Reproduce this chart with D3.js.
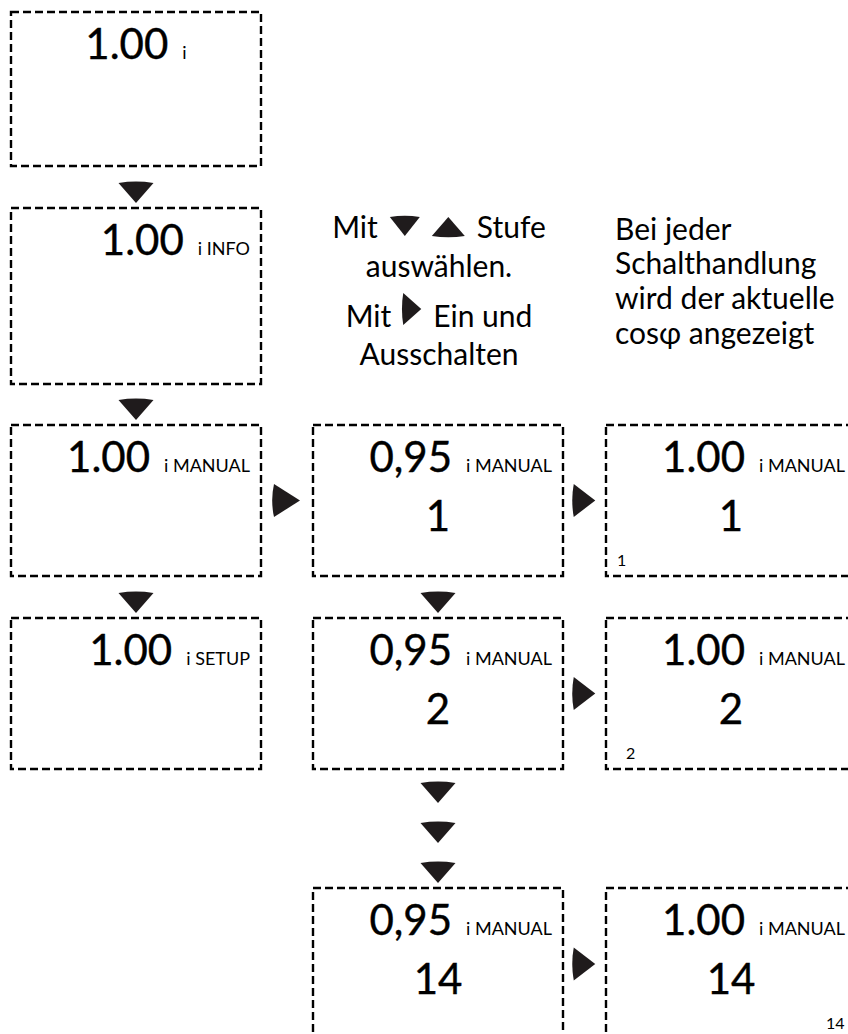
<!DOCTYPE html>
<html>
<head>
<meta charset="utf-8">
<script src="https://cdn.jsdelivr.net/npm/d3@7"></script>
<style>
  html, body { margin: 0; padding: 0; background: #fff; }
  svg { display: block; font-family: Lato, "Open Sans", sans-serif; }
</style>
</head>
<body>
<div id="chart"></div>
<script>
'use strict';

// Controller screens, one entry per screen
var screenCol  = [0, 0, 0, 0, 1, 1, 1, 2, 2, 2];
var screenRow  = [0, 1, 2, 3, 2, 3, 4, 2, 3, 4];
var readings   = ['1.00', '1.00', '1.00', '1.00', '0,95', '0,95', '0,95', '1.00', '1.00', '1.00'];
var modes      = ['i', 'i INFO', 'i MANUAL', 'i SETUP', 'i MANUAL', 'i MANUAL', 'i MANUAL', 'i MANUAL', 'i MANUAL', 'i MANUAL'];
var stages     = ['', '', '', '', '1', '2', '14', '1', '2', '14'];
var stageFlags = ['', '', '', '', '', '', '', '1', '2', '14'];

// Down keys: [column, row they lead into, position in the stack above it]
var downKeys  = [[0, 1, 0], [0, 2, 0], [0, 3, 0], [1, 3, 0], [1, 4, 0], [1, 4, 1], [1, 4, 2]];
// Right keys: [column they leave, row]
var rightKeys = [[0, 2], [1, 2], [1, 3], [1, 4]];

// Help texts
var helpLeft = [
  [{t: 'Mit'}, {g: 'down'}, {g: 'up'}, {t: 'Stufe'}],
  [{t: 'auswählen.'}],
  [{t: 'Mit'}, {g: 'right'}, {t: 'Ein und'}],
  [{t: 'Ausschalten'}]
];
var helpRight = ['Bei jeder', 'Schalthandlung', 'wird der aktuelle', 'cosφ angezeigt'];

// ---------------------------------------------------------------
var width = 848, height = 1034;
var boxW = 250;
var ink = '#1f1b1c';

var colX   = d3.scaleOrdinal().domain([0, 1, 2]).range([11, 313, 606]);
var rowTop = d3.scaleOrdinal().domain([0, 1, 2, 3, 4]).range([12, 208, 425, 618, 888]);
var rowH   = d3.scaleOrdinal().domain([0, 1, 2, 3, 4]).range([154, 176, 151, 151, 152]);
var flagX  = d3.scaleLinear().domain([1, 2, 14]).range([11, 20, 220]);
var leftLine  = d3.scaleOrdinal().domain([0, 1, 2, 3]).range([238, 277, 327, 365]);
var rightLine = d3.scaleOrdinal().domain([0, 1, 2, 3]).range([240, 274, 309, 344]);

var svg = d3.select('#chart').append('svg')
  .attr('width', width)
  .attr('height', height);

// key glyph: triangle with a slightly bowed base, pointing down before rotation
function keyPath(w, h) {
  var p = d3.path();
  p.moveTo(-w / 2, -h / 2);
  p.quadraticCurveTo(0, -h / 2 - h * 0.14, w / 2, -h / 2);
  p.lineTo(0, h / 2);
  p.closePath();
  return p.toString();
}
var turn = {down: 0, up: 180, right: -90};

function key(parent, cx, cy, w, h, dir) {
  parent.append('path')
    .attr('d', keyPath(w, h))
    .attr('fill', ink)
    .attr('transform', 'translate(' + cx + ',' + cy + ') rotate(' + turn[dir] + ')');
}

// screens
var screens = d3.range(readings.length).map(function(i) {
  return {col: screenCol[i], row: screenRow[i], reading: readings[i],
          mode: modes[i], stage: stages[i], flag: stageFlags[i]};
});

var scr = svg.selectAll('g.screen')
  .data(screens)
  .enter()
  .append('g')
  .attr('class', 'screen')
  .attr('transform', function(d) { return 'translate(' + colX(d.col) + ',' + rowTop(d.row) + ')'; });

scr.append('rect')
  .attr('x', 0).attr('y', 0)
  .attr('width', boxW)
  .attr('height', function(d) { return rowH(d.row); })
  .attr('fill', 'none')
  .attr('stroke', '#000')
  .attr('stroke-width', 2.4)
  .attr('stroke-dasharray', '8 4');

scr.each(function(d) {
  var g = d3.select(this);
  var label = g.append('text')
    .attr('y', 47)
    .attr('font-size', 18)
    .attr('fill', '#000')
    .text(d.mode);
  var num = g.append('text')
    .attr('y', 47)
    .attr('font-size', 42)
    .attr('fill', '#000')
    .attr('stroke', '#000')
    .attr('stroke-width', 0.4)
    .text(d.reading);
  var lw = label.node().getComputedTextLength();
  var nw = num.node().getComputedTextLength();
  var gap = 14;
  var start;
  if (d.row === 0) {
    // start screen is centred
    start = boxW / 2 - (nw + gap + lw) / 2;
  } else {
    start = boxW - 11 - lw - gap - nw;
  }
  num.attr('x', start);
  label.attr('x', start + nw + gap);

  if (d.stage) {
    g.append('text')
      .attr('x', boxW / 2)
      .attr('y', 106)
      .attr('text-anchor', 'middle')
      .attr('font-size', 42)
      .attr('stroke', '#000')
      .attr('stroke-width', 0.4)
      .text(d.stage);
  }
  if (d.flag) {
    g.append('text')
      .attr('x', flagX(+d.flag))
      .attr('y', 141)
      .attr('font-size', 16)
      .text(d.flag);
  }
});

// down keys
var arrows = svg.append('g').attr('class', 'keys');
downKeys.forEach(function(k) {
  var cx = colX(k[0]) + boxW / 2;
  var tip = rowTop(k[1]) - 5 - k[2] * 40;
  key(arrows, cx, tip - 10, 35, 20, 'down');
});

// right keys
rightKeys.forEach(function(k) {
  var left = colX(k[0]) + boxW;
  var gapW = colX(k[0] + 1) - left;
  var cy = rowTop(k[1]) + rowH(k[1]) / 2;
  key(arrows, left + gapW / 2, cy, 33, gapW / 2, 'right');
});

// help text, left block (centred over the middle column, with inline keys)
var help = svg.append('g').attr('class', 'help')
  .attr('font-size', 30)
  .attr('fill', '#000');

var glyphSize = {down: [30, 19], up: [33, 19], right: [32, 18]};
var centre = colX(1) + boxW / 2 + 1;

helpLeft.forEach(function(items, li) {
  var base = leftLine(li);
  var spacing = 12;
  var parts = items.map(function(it) {
    if (it.t) {
      var node = help.append('text').attr('y', base).text(it.t);
      return {node: node, w: node.node().getComputedTextLength()};
    }
    var s = glyphSize[it.g];
    var gw = it.g === 'right' ? s[1] : s[0];
    var gh = it.g === 'right' ? s[0] : s[1];
    return {glyph: it.g, w: gw, h: gh};
  });
  var total = d3.sum(parts, function(p) { return p.w; }) + spacing * (parts.length - 1);
  var x = centre - total / 2;
  parts.forEach(function(p) {
    if (p.node) {
      p.node.attr('x', x);
    } else {
      var s = glyphSize[p.glyph];
      key(help, x + p.w / 2, base - 2 - p.h / 2, s[0], s[1], p.glyph);
    }
    x += p.w + spacing;
  });
});

// help text, right block
help.selectAll('text.right')
  .data(helpRight)
  .enter()
  .append('text')
  .attr('class', 'right')
  .attr('x', 615)
  .attr('y', function(d, i) { return rightLine(i); })
  .text(function(d) { return d; });
</script>
</body>
</html>
